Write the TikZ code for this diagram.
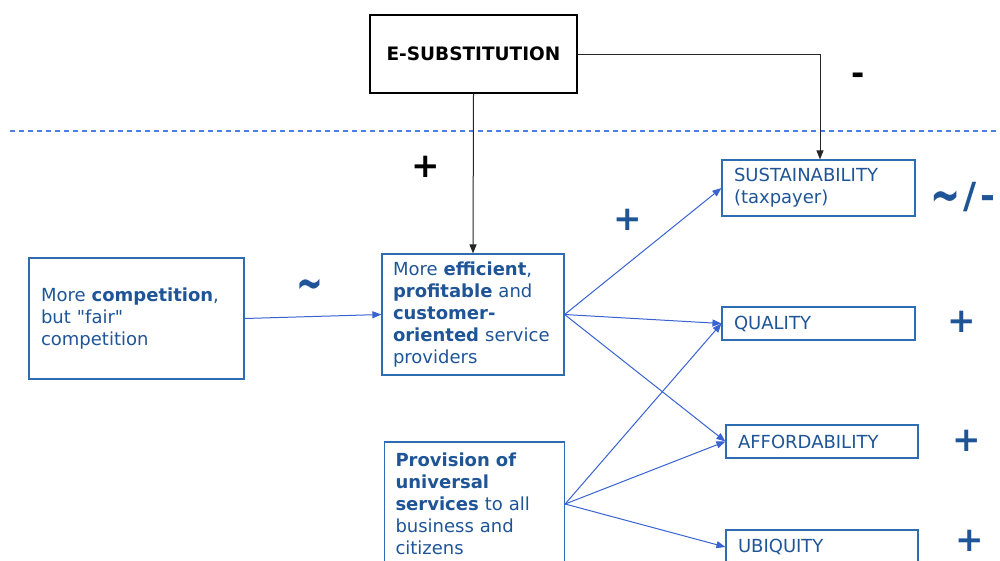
\documentclass[tikz,border=0pt]{standalone}
\usepackage{fontspec}
\setmainfont{DejaVu Sans}[Ligatures=TeXOff]
\usetikzlibrary{arrows.meta}
\definecolor{boxblue}{HTML}{2F6DB3}
\definecolor{txtblue}{HTML}{1F5597}
\definecolor{arrblue}{HTML}{3A63D2}
\definecolor{dashblue}{HTML}{4A7EE0}
\begin{document}
\begin{tikzpicture}[x=1pt,y=-1pt,
  bodyfont/.style={font=\fontsize{18}{22}\selectfont},
  bluebox/.style={draw=boxblue,line width=1.2pt,text=txtblue,bodyfont,inner sep=0pt,align=left},
  blackbox/.style={draw=black,line width=1.2pt,inner sep=0pt,font=\fontsize{18.5}{22}\selectfont\bfseries},
  barrow/.style={draw=arrblue,line width=1pt,-{Triangle[length=9pt,width=7pt,fill=arrblue]}},
  karrow/.style={draw=black!85,line width=1pt,-{Triangle[length=9pt,width=7pt,fill=black!85]}},
  sign/.style={font=\fontsize{34}{34}\selectfont\bfseries,inner sep=0pt},
  tsign/.style={font=\fontsize{32}{32}\selectfont\bfseries,inner sep=0pt}
]
\useasboundingbox (0,0) rectangle (1000,560);
\fill[white] (0,0) rectangle (1000,560);

% dashed separator
\coordinate (dl) at (10,131);
\coordinate (dr) at (1000,131);
\draw[dashblue,line width=1.3pt,dash pattern=on 5pt off 4pt] (dl) -- (dr);

% nodes
\node[blackbox,minimum width=207,minimum height=78] (esub) at (473.5,54) {E-SUBSTITUTION};

\node[bluebox,minimum width=215,minimum height=121,text width=191] (comp) at (136.5,318.5)
  {More \textbf{competition},\\but "fair"\\competition};
\node[bluebox,minimum width=182,minimum height=121,text width=160] (eff) at (473,314.5)
  {More \textbf{efficient},\\\textbf{profitable} and\\\textbf{customer-}\\\textbf{oriented} service\\providers};
\node[bluebox,minimum width=180,minimum height=124,text width=158] (prov) at (474.5,504)
  {\textbf{Provision of}\\\textbf{universal}\\\textbf{services} to all\\business and\\citizens};

\node[bluebox,minimum width=193,minimum height=56,text width=169] (sust) at (818.5,188)
  {SUSTAINABILITY\\(taxpayer)};
\node[bluebox,minimum width=193,minimum height=33,text width=169] (qual) at (818.5,323.5) {QUALITY};
\node[bluebox,minimum width=192,minimum height=33,text width=168] (aff) at (822,441.5) {AFFORDABILITY};
\node[bluebox,minimum width=192,minimum height=34,text width=168] (ubi) at (822,547) {UBIQUITY};

% connectors
\draw[karrow] (esub.south) -- (eff.north);
\draw[karrow] (esub.east) -| ([xshift=1.5pt]sust.north);
\draw[barrow] (comp.east) -- (eff.west);
\draw[barrow] (eff.east) -- (sust.west);
\draw[barrow] (eff.east) -- (qual.west);
\draw[barrow] (eff.east) -- (aff.west);
\draw[barrow] (prov.east) -- (qual.west);
\draw[barrow] (prov.east) -- (aff.west);
\draw[barrow] (prov.east) -- (ubi.west);

% signs
\node[tsign,text=black] (m1) at (858,79) {-};
\node[sign,text=black] (p1) at (426,167) {+};
\node[sign,text=txtblue] (p2) at (628,220) {+};
\node[tsign,text=txtblue] (t1) at (310,290) {\scalebox{1}[1.6]{\textasciitilde}};
\node[tsign,text=txtblue,anchor=west,font=\fontsize{36}{36}\selectfont\bfseries] (t2) at (930,198) {\raisebox{-5pt}{\scalebox{1}[1.5]{\textasciitilde}}\hspace{3pt}/\hspace{4pt}-};
\node[sign,text=txtblue] (p3) at (962,322) {+};
\node[sign,text=txtblue] (p4) at (967,441) {+};
\node[sign,text=txtblue] (p5) at (970,541) {+};
\end{tikzpicture}
\end{document}
